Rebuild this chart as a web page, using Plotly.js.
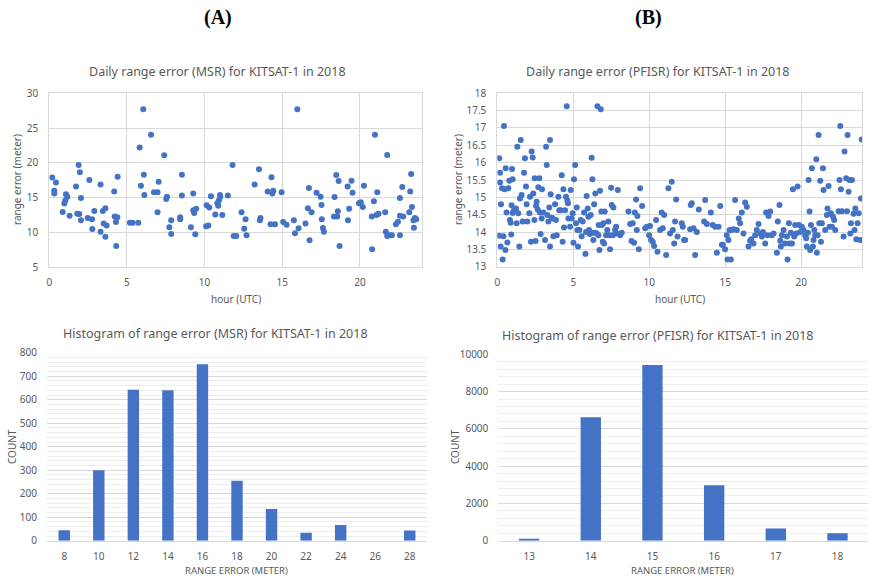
<!DOCTYPE html>
<html>
<head>
<meta charset="utf-8">
<script src="https://cdn.plot.ly/plotly-3.0.1.min.js"></script>
<style>html,body{margin:0;padding:0;background:#fff;}#chart{width:877px;height:581px;}</style>
</head>
<body>
<div id="chart"></div>
<script>
// ---- Data: MSR daily range error (hour UTC, meters) ----
const msrHour = [0.19,0.32,0.32,0.43,0.86,0.97,1.03,1.07,1.16,1.31,1.72,1.80,1.89,1.93,1.97,2.04,2.04,2.47,2.58,2.75,2.77,2.90,3.30,3.30,3.45,3.50,3.61,3.61,3.69,4.18,4.21,4.29,4.31,4.38,4.40,5.19,5.36,5.73,5.82,5.90,6.05,6.09,6.12,6.55,6.74,6.97,6.97,7.04,7.40,7.53,7.58,7.73,7.85,7.85,8.43,8.43,8.54,8.54,9.12,9.27,9.27,9.33,9.40,9.46,10.10,10.24,10.13,10.30,10.41,10.69,10.82,10.88,10.92,10.99,11.01,11.14,11.50,11.80,11.87,12.04,12.38,12.55,12.64,12.70,13.22,13.50,13.56,13.60,14.06,14.25,14.31,14.36,14.42,14.53,14.96,15.06,15.28,15.75,15.82,15.97,16.05,16.50,16.65,16.72,16.76,16.89,17.21,17.47,17.53,17.55,17.62,17.68,18.37,18.33,18.48,18.54,18.58,18.63,18.69,19.21,19.23,19.31,19.46,19.53,19.94,20.06,20.19,20.26,20.79,20.77,20.90,20.97,21.07,21.12,21.20,21.63,21.67,21.76,21.76,21.93,22.06,22.32,22.45,22.58,22.58,22.58,22.73,22.79,23.18,23.24,23.30,23.35,23.45,23.48,23.54,23.63];
const msrError = [17.9,15.6,16.0,17.2,12.95,14.15,14.6,15.5,15.15,12.4,16.6,12.7,19.7,12.65,18.65,14.95,11.75,12.1,17.55,11.9,10.5,13.1,16.9,10.1,13.1,11.3,13.5,9.4,11.0,15.9,12.3,11.5,8.05,12.2,18.0,11.4,11.4,11.4,22.2,16.7,27.7,18.3,15.4,24.05,15.8,15.8,12.9,17.3,21.1,14.8,15.15,10.75,11.75,9.8,12.2,11.9,18.3,15.3,10.75,15.6,13.2,12.8,9.75,13.4,10.9,11.0,13.9,13.6,15.2,12.6,14.2,13.85,14.6,15.4,15.1,12.5,15.3,19.7,9.5,9.5,12.9,10.55,11.9,9.6,16.9,19.1,11.75,12.1,15.9,11.2,17.95,15.6,16.0,11.2,15.8,11.5,11.1,11.75,9.9,27.7,10.6,11.3,13.5,16.4,8.9,12.9,15.7,15.15,13.95,11.9,10.65,10.1,15.1,12.3,18.25,12.3,13.05,17.4,8.05,16.6,11.75,13.4,17.45,15.7,14.2,14.35,13.65,16.7,7.6,12.3,14.5,24.05,12.5,15.8,12.7,12.9,10.1,21.15,9.5,9.6,9.6,11.2,11.55,14.95,12.4,9.6,16.55,12.3,12.9,15.9,18.4,13.65,11.75,10.7,12.1,11.9];

// ---- Data: PFISR daily range error (hour UTC, meters) ----
const pfisrHour = [0.13,0.18,0.18,0.13,0.22,0.24,0.31,0.35,0.40,0.44,0.48,0.53,0.55,0.61,0.66,0.72,0.79,0.83,0.88,0.92,0.94,0.97,1.01,1.01,1.10,1.23,1.27,1.32,1.38,1.45,1.49,1.54,1.60,1.67,1.76,1.82,1.89,1.93,1.98,2.11,2.15,2.22,2.26,2.33,2.37,2.44,2.46,2.52,2.55,2.59,2.66,2.70,2.77,2.81,2.85,2.92,2.94,3.03,3.14,3.21,3.25,3.29,3.36,3.42,3.47,3.51,3.47,3.58,3.64,3.69,3.80,3.86,3.91,4.02,4.08,4.17,4.24,4.30,4.35,4.39,4.46,4.52,4.57,4.61,4.65,4.68,4.79,4.83,4.90,4.96,5.01,5.05,5.12,5.18,5.23,5.27,5.31,5.40,5.49,5.55,5.62,5.71,5.80,5.84,5.88,5.95,5.99,6.04,6.08,6.15,6.21,6.26,6.28,6.32,6.37,6.43,6.45,6.54,6.59,6.65,6.67,6.72,6.76,6.81,6.85,6.89,6.94,6.98,7.03,7.07,7.16,7.24,7.31,7.38,7.42,7.49,7.53,7.60,7.64,7.75,7.82,7.86,7.93,8.08,8.19,8.63,8.74,8.83,8.91,9.00,9.05,9.13,9.18,9.22,9.31,9.40,9.53,9.73,9.84,9.99,10.05,10.12,10.23,10.32,10.45,10.54,10.71,10.82,10.89,10.98,11.11,11.26,11.37,11.48,11.55,11.64,11.70,11.77,11.86,12.14,12.21,12.29,12.36,12.69,12.73,12.80,12.91,13.02,13.13,13.26,13.61,13.68,13.79,14.05,14.18,14.34,14.45,14.56,14.67,14.78,14.84,14.99,15.10,15.15,15.21,15.28,15.37,15.43,15.54,15.65,15.76,15.89,15.98,16.09,16.20,16.31,16.42,16.53,16.64,16.71,16.86,16.97,17.08,17.19,17.34,17.41,17.48,17.63,17.69,17.78,17.85,17.96,18.07,18.18,18.40,18.46,18.57,18.62,18.66,18.73,18.84,18.95,19.06,19.10,19.19,19.23,19.32,19.39,19.45,19.54,19.60,19.67,19.76,19.85,19.93,20.04,20.15,20.26,20.33,20.37,20.44,20.48,20.55,20.59,20.64,20.70,20.77,20.81,20.86,20.92,20.99,21.03,21.08,21.14,21.19,21.25,21.30,21.36,21.43,21.47,21.58,21.69,21.73,21.80,21.87,21.95,22.02,22.09,22.17,22.24,22.46,22.52,22.57,22.61,22.68,22.79,22.85,22.96,23.01,23.05,23.12,23.18,23.23,23.27,23.34,23.45,23.51,23.56,23.62,23.71,23.78,23.89,23.93,23.98];
const pfisrError = [16.13,15.71,15.43,13.89,13.58,14.8,15.26,13.21,13.88,17.06,15.23,13.48,15.84,14.56,13.7,15.26,15.48,14.35,14.27,13.93,14.77,15.82,15.52,14.55,14.63,14.68,14.25,16.46,14.54,13.58,14.97,16.65,15.07,14.3,15.71,16.13,15.31,14.8,14.3,14.54,15.02,13.72,16.32,16.15,15.11,14.35,15.55,13.74,14.76,14.87,14.65,15.29,15.55,14.56,13.94,14.39,15.23,14.56,13.77,16.46,15.93,14.49,14.3,14.71,16.65,15.09,13.58,14.41,14.39,13.88,14.8,14.35,13.91,15.02,14.63,14.63,15.64,13.72,15.23,14.13,14.63,15.02,17.63,14.9,14.83,14.39,14.15,15.21,14.39,14.54,13.69,15.52,15.93,14.25,14.71,14.06,13.58,14.06,14.35,13.88,14.3,14.56,13.37,14.0,15.04,14.68,14.44,14.06,13.94,14.49,16.14,15.52,13.98,13.77,14.8,13.98,15.11,13.96,17.63,13.91,14.2,13.48,15.19,17.54,14.59,14.2,13.72,14.25,13.67,14.59,13.91,14.06,14.3,13.91,13.5,15.28,14.78,13.91,14.71,14.06,14.15,13.96,15.21,13.91,13.98,14.59,14.23,13.74,14.25,13.69,14.56,14.94,14.06,14.46,13.5,15.26,14.75,14.11,14.15,13.91,14.17,13.77,13.72,13.6,14.35,13.43,14.06,14.56,14.11,14.49,13.34,15.26,13.96,15.45,14.06,13.67,14.3,14.94,13.87,14.25,14.15,13.77,13.77,14.08,14.78,14.83,14.11,13.34,14.0,14.65,14.3,14.92,14.23,14.56,14.2,14.15,13.4,14.15,14.75,13.63,13.63,13.5,13.91,13.21,13.77,14.06,13.21,14.06,14.08,14.92,14.06,14.39,14.25,14.56,13.96,14.85,14.73,13.58,13.75,13.79,13.67,13.91,14.06,14.23,13.94,13.87,14.0,13.67,14.56,13.91,14.46,14.59,13.91,13.96,13.4,14.3,14.78,13.75,13.58,13.91,14.06,13.67,13.87,13.21,14.25,13.67,13.98,13.67,15.23,13.87,14.2,13.96,15.31,14.2,14.0,14.15,14.06,13.91,13.82,13.58,13.98,15.5,14.59,13.48,14.2,15.84,13.58,13.77,14.06,13.91,16.1,13.4,13.91,16.8,14.25,15.48,13.72,14.25,15.84,15.21,14.06,14.49,14.68,15.33,14.15,14.54,14.15,14.44,14.35,14.06,14.6,15.5,17.06,15.23,14.6,13.87,16.32,15.55,14.6,16.8,15.16,15.5,13.96,14.25,15.5,14.53,14.06,14.68,13.79,14.25,14.54,13.77,14.97,16.67];

// ---- Data: histograms ----
const msrBins = ["8","10","12","14","16","18","20","22","24","26","28"];
const msrCounts = [45,300,642,640,751,255,135,34,67,0,43];
const pfisrBins = ["13","14","15","16","17","18"];
const pfisrCounts = [110,6620,9430,2970,660,400];

// ---- Titles ----
const panelLabels = ["(A)", "(B)"];
const chartTitles = [
  "Daily range error (MSR) for KITSAT-1 in 2018",
  "Daily range error (PFISR) for KITSAT-1 in 2018",
  "Histogram of range error (MSR) for KITSAT-1 in 2018",
  "Histogram of range error (PFISR) for KITSAT-1 in 2018"
];
const scatterXTitle = "hour (UTC)";
const scatterYTitle = "range error (meter)";
const histXTitle = "RANGE ERROR (METER)";
const histYTitle = "COUNT";

const W = 877, H = 581;
const px = x => x / W;
const py = y => 1 - y / H;

const BLUE = "#4472c4";
const GRAY = "#595959";
const GRID = "#d9d9d9";
const FONT = "Noto Sans, Open Sans, sans-serif";

const traces = [
  {type: "scatter", mode: "markers", x: msrHour, y: msrError, xaxis: "x", yaxis: "y",
   marker: {color: BLUE, size: 6}, hoverinfo: "x+y"},
  {type: "scatter", mode: "markers", x: pfisrHour, y: pfisrError, xaxis: "x2", yaxis: "y2",
   marker: {color: BLUE, size: 6}, hoverinfo: "x+y"},
  {type: "bar", x: msrBins, y: msrCounts, xaxis: "x3", yaxis: "y3",
   marker: {color: BLUE, line: {width: 0}}},
  {type: "bar", x: pfisrBins, y: pfisrCounts, xaxis: "x4", yaxis: "y4",
   marker: {color: BLUE, line: {width: 0}}}
];

const tickFont = {family: FONT, size: 10, color: GRAY};

function scatterX(domain) {
  return {domain: domain, range: [0, 24], dtick: 5, tick0: 0, showgrid: true, gridcolor: GRID,
    zeroline: false, showline: true, linecolor: GRID, mirror: true, ticks: "",
    tickfont: tickFont, ticklabelstandoff: 6, fixedrange: true};
}
function scatterY(domain, anchor, range, dtick) {
  return {domain: domain, anchor: anchor, range: range, dtick: dtick, showgrid: true, gridcolor: GRID,
    zeroline: false, showline: true, linecolor: GRID, mirror: true, ticks: "",
    tickfont: tickFont, ticklabelstandoff: 8, fixedrange: true};
}
function histX(domain, anchor) {
  return {domain: domain, anchor: anchor, type: "category", showgrid: false, zeroline: false,
    showline: true, linecolor: GRID, ticks: "", tickfont: tickFont, ticklabelstandoff: 6, fixedrange: true};
}
function histY(domain, anchor, range, dtick, minorDtick) {
  return {domain: domain, anchor: anchor, range: range, dtick: dtick, showgrid: true, gridcolor: GRID,
    zeroline: false, showline: false, ticks: "", tickfont: tickFont, ticklabelstandoff: 9,
    tickformat: "d", exponentformat: "none", separatethousands: false,
    minor: {dtick: minorDtick, showgrid: true, gridcolor: "#eeeeee", ticks: ""}, fixedrange: true};
}

const layout = {
  width: W, height: H,
  margin: {l: 0, r: 0, t: 0, b: 0},
  paper_bgcolor: "#ffffff", plot_bgcolor: "#ffffff",
  showlegend: false,
  font: {family: FONT, color: GRAY},
  bargap: 0.67,
  xaxis: Object.assign(scatterX([px(49.3), px(422)]), {anchor: "y"}),
  yaxis: scatterY([py(267.3), py(93.3)], "x", [5, 30], 5),
  xaxis2: Object.assign(scatterX([px(497.3), px(862)]), {anchor: "y2"}),
  yaxis2: scatterY([py(266.7), py(93.3)], "x2", [13, 18], 0.5),
  xaxis3: histX([px(47), px(427)], "y3"),
  yaxis3: histY([py(540.7), py(352.7)], "x3", [0, 800], 100, 20),
  xaxis4: histX([px(498.3), px(868.3)], "y4"),
  yaxis4: histY([py(540.7), py(354.3)], "x4", [0, 10000], 2000, 400),
  annotations: []
};

function ann(text, x, y, size, opts) {
  return Object.assign({text: text, x: px(x), y: py(y), xref: "paper", yref: "paper",
    showarrow: false, xanchor: "center", yanchor: "middle",
    font: {family: FONT, size: size, color: GRAY}}, opts || {});
}

layout.annotations.push(
  ann("<b>" + panelLabels[0] + "</b>", 218, 18, 20, {font: {family: "Liberation Serif, serif", size: 20, color: "#000"}}),
  ann("<b>" + panelLabels[1] + "</b>", 648, 18, 20, {font: {family: "Liberation Serif, serif", size: 20, color: "#000"}}),
  ann(chartTitles[0], 217, 71, 12.5),
  ann(chartTitles[1], 657, 71, 12.5),
  ann(chartTitles[2], 215, 333, 12.5),
  ann(chartTitles[3], 657.7, 335, 12.5),
  ann(scatterXTitle, 235.7, 299, 10),
  ann(scatterXTitle, 680, 299, 10),
  ann(scatterYTitle, 17, 180, 10, {textangle: -90}),
  ann(scatterYTitle, 458, 180, 10, {textangle: -90}),
  ann(histYTitle, 12, 447, 10, {textangle: -90}),
  ann(histYTitle, 455, 447, 10, {textangle: -90}),
  ann(histXTitle, 236.7, 570.5, 9.5),
  ann(histXTitle, 682.5, 570, 9.5)
);

Plotly.newPlot("chart", traces, layout, {staticPlot: true, displayModeBar: false});
</script>
</body>
</html>
